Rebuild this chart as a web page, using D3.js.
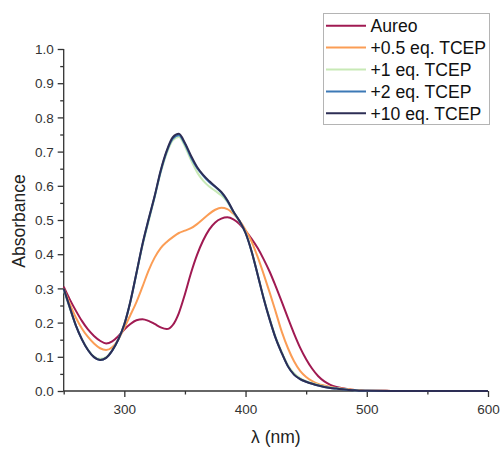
<!DOCTYPE html>
<html>
<head>
<meta charset="utf-8">
<script src="https://cdn.jsdelivr.net/npm/d3@7"></script>
<style>
  body { margin: 0; background: #fff; }
  svg { display: block; font-family: "Liberation Sans", Arial, sans-serif; }
</style>
</head>
<body>
<svg id="chart"></svg>
<script>
// wavelengths (nm)
const wavelengths = [250,255,260,265,270,275,280,285,290,295,300,305,310,315,320,325,330,335,340,345,
  350,355,360,365,370,375,380,385,390,395,400,405,410,415,420,425,430,435,440,445,
  450,455,460,465,470,475,480,485,490,495,500,520,540,560,580,600];

const aureo = [0.305,0.268,0.235,0.205,0.180,0.161,0.147,0.139,0.145,0.160,0.180,0.196,0.207,0.210,0.205,0.196,0.186,0.181,0.193,0.228,
  0.283,0.345,0.398,0.440,0.472,0.493,0.504,0.508,0.502,0.488,0.468,0.445,0.418,0.385,0.348,0.305,0.260,0.213,0.168,0.127,
  0.093,0.065,0.043,0.028,0.018,0.012,0.008,0.005,0.003,0.002,0.001,0.0003,0,0,0,0];

const tcep05 = [0.300,0.255,0.215,0.183,0.158,0.139,0.125,0.120,0.128,0.150,0.185,0.222,0.260,0.305,0.352,0.390,0.418,0.436,0.450,0.462,
  0.469,0.476,0.488,0.503,0.518,0.530,0.536,0.532,0.518,0.498,0.471,0.437,0.392,0.341,0.287,0.230,0.172,0.125,0.087,0.059,
  0.041,0.029,0.021,0.016,0.012,0.009,0.007,0.005,0.003,0.002,0.001,0.0003,0,0,0,0];

const tcep1 = [0.295,0.242,0.192,0.152,0.121,0.101,0.094,0.099,0.119,0.150,0.195,0.260,0.343,0.425,0.495,0.566,0.638,0.695,0.733,0.743,
  0.715,0.675,0.640,0.615,0.598,0.585,0.572,0.553,0.522,0.496,0.462,0.409,0.341,0.272,0.211,0.156,0.113,0.075,0.052,0.038,
  0.029,0.023,0.018,0.013,0.010,0.008,0.006,0.004,0.002,0.001,0.0006,0.0002,0,0,0,0];

const tcep2 = [0.298,0.244,0.192,0.151,0.120,0.099,0.091,0.097,0.118,0.150,0.195,0.261,0.344,0.428,0.500,0.568,0.642,0.700,0.738,0.748,
  0.722,0.683,0.652,0.630,0.611,0.597,0.580,0.556,0.524,0.497,0.462,0.408,0.340,0.270,0.208,0.153,0.110,0.072,0.048,0.035,
  0.027,0.021,0.016,0.012,0.009,0.007,0.005,0.003,0.002,0.001,0.0005,0.0001,0,0,0,0];

const tcep10 = [0.300,0.245,0.192,0.151,0.120,0.099,0.091,0.097,0.118,0.150,0.195,0.262,0.345,0.430,0.502,0.570,0.645,0.703,0.742,0.752,
  0.725,0.688,0.655,0.632,0.614,0.598,0.582,0.558,0.525,0.497,0.462,0.408,0.340,0.270,0.208,0.153,0.110,0.072,0.048,0.035,
  0.027,0.021,0.016,0.012,0.009,0.007,0.005,0.003,0.002,0.001,0.0005,0.0001,0,0,0,0];

const seriesNames = ['Aureo', '+0.5 eq. TCEP', '+1 eq. TCEP', '+2 eq. TCEP', '+10 eq. TCEP'];
const seriesValues = [aureo, tcep05, tcep1, tcep2, tcep10];
const seriesColors = ['#a01a52', '#fb9d55', '#c8e9b6', '#3c79b6', '#2d2e55'];

const xTicks = [300, 400, 500, 600];

const width = 503, height = 450;
const margin = {top: 49, right: 15, bottom: 59, left: 63.7};
const axisColor = '#333';

const svg = d3.select('#chart')
    .attr('width', width)
    .attr('height', height);

const x = d3.scaleLinear().domain([250, 600]).range([margin.left, width - margin.right]);
const y = d3.scaleLinear().domain([0, 1]).range([height - margin.bottom, margin.top]);

// x axis: minor ticks every 50, labels at 100
const xAxis = svg.append('g')
    .attr('transform', `translate(0,${y(0)})`);
xAxis.call(d3.axisBottom(x).tickValues(d3.range(250, 601, 50)).tickSize(3.5).tickFormat(''));
xAxis.call(g => g.selectAll('.tick').filter(d => d % 100 === 0).select('line').attr('y2', 6));
xAxis.selectAll('.tick').filter(d => xTicks.includes(d)).append('text')
    .attr('y', 23)
    .attr('text-anchor', 'middle')
    .attr('fill', axisColor)
    .style('font-size', '13.5px')
    .text(d => d);

// y axis, minor ticks every 0.05
const yAxis = svg.append('g')
    .attr('transform', `translate(${margin.left},0)`);
yAxis.call(d3.axisLeft(y).tickValues(d3.range(0, 21).map(i => i * 0.05)).tickSize(3.5).tickFormat(''));
yAxis.call(g => g.selectAll('.tick').filter((d, i) => i % 2 === 0).select('line').attr('x2', -6));
yAxis.selectAll('.tick').filter((d, i) => i % 2 === 0).append('text')
    .attr('x', -10)
    .attr('dy', '0.35em')
    .attr('text-anchor', 'end')
    .attr('fill', axisColor)
    .style('font-size', '13.5px')
    .text(d => d.toFixed(1));

svg.selectAll('.domain, .tick line')
    .attr('stroke', axisColor)
    .attr('stroke-width', 1.3);
// no end caps on the axis lines
xAxis.select('.domain').attr('d', `M${x(250)},0H${x(600)}`);
yAxis.select('.domain').attr('d', `M0,${y(0)}V${y(1)}`);

// axis titles
svg.append('text')
    .attr('transform', `translate(25,221) rotate(-90)`)
    .attr('text-anchor', 'middle')
    .attr('fill', '#222')
    .style('font-size', '17.5px')
    .text('Absorbance');

svg.append('text')
    .attr('x', x(425))
    .attr('y', 443)
    .attr('text-anchor', 'middle')
    .attr('fill', '#222')
    .style('font-size', '17.5px')
    .text('λ (nm)');

// curves
const line = d3.line()
    .x((d, i) => x(wavelengths[i]))
    .y(d => y(d))
    .curve(d3.curveMonotoneX);

svg.append('g')
    .selectAll('path')
    .data(seriesValues)
    .enter().append('path')
    .attr('d', d => line(d))
    .attr('fill', 'none')
    .attr('stroke', (d, i) => seriesColors[i])
    .attr('stroke-width', 2);

// legend
const legend = svg.append('g');
legend.append('rect')
    .attr('x', 323.5)
    .attr('y', 13.5)
    .attr('width', 166)
    .attr('height', 111)
    .attr('fill', '#fff')
    .attr('stroke', '#b4b4b4')
    .attr('stroke-width', 1);

const rows = legend.selectAll('.row')
    .data(seriesNames)
    .enter().append('g')
    .attr('class', 'row')
    .attr('transform', (d, i) => `translate(0,${25.7 + i * 21.9})`);

rows.append('line')
    .attr('x1', 326)
    .attr('x2', 366)
    .attr('stroke', (d, i) => seriesColors[i])
    .attr('stroke-width', 2);

rows.append('text')
    .attr('x', 370.5)
    .attr('dy', '0.36em')
    .attr('fill', '#111')
    .style('font-size', '17.6px')
    .text(d => d);
</script>
</body>
</html>
